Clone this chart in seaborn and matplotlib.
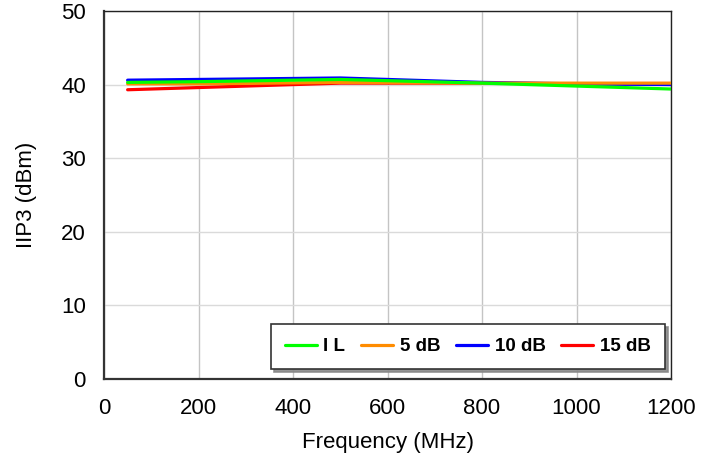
import matplotlib
matplotlib.use("Agg")
import matplotlib.pyplot as plt
import seaborn as sns
import pandas as pd

# IIP3 versus frequency for each attenuation state
freq_mhz = [50, 200, 500, 800, 1000, 1200]
iip3_il = [40.3, 40.4, 40.7, 40.2, 39.8, 39.4]
iip3_5db = [40.1, 40.1, 40.3, 40.2, 40.2, 40.2]
iip3_10db = [40.6, 40.7, 40.9, 40.3, 40.1, 40.0]
iip3_15db = [39.3, 39.6, 40.2, 40.2, 40.1, 40.1]

series_names = ["I L", "5 dB", "10 dB", "15 dB"]
series_values = [iip3_il, iip3_5db, iip3_10db, iip3_15db]
series_colors = ["#00ff00", "#ff8c00", "#0000ff", "#ff0000"]

rows = []
for name, vals in zip(series_names, series_values):
    for f, v in zip(freq_mhz, vals):
        rows.append({"Frequency": f, "IIP3": v, "State": name})
df = pd.DataFrame(rows)

sns.set_theme(style="white")
plt.rcParams["font.family"] = ["Liberation Sans", "DejaVu Sans"]

fig = plt.figure(figsize=(7.15, 4.61), dpi=100)
ax = fig.add_axes([104 / 715, 1 - 379 / 461, 567 / 715, 368 / 461])

# draw so the insertion-loss trace sits on top
palette = dict(zip(series_names, series_colors))
for z, name in enumerate(reversed(series_names)):
    sub = df[df["State"] == name]
    sns.lineplot(data=sub, x="Frequency", y="IIP3", color=palette[name],
                 linewidth=2.3, ax=ax, legend=False, zorder=3 + z)

ax.set_xlim(0, 1200)
ax.set_ylim(0, 50)
ax.set_xticks(range(0, 1201, 200))
ax.set_yticks(range(0, 51, 10))
ax.tick_params(axis="both", labelsize=16, length=0, colors="black")
ax.tick_params(axis="x", pad=14)
ax.tick_params(axis="y", pad=13)
ax.set_xlabel("Frequency (MHz)", fontsize=16, labelpad=9, color="black")
ax.set_ylabel("IIP3 (dBm)", fontsize=16, labelpad=17, color="black")

ax.xaxis.grid(True, color="#c4c4c4", linewidth=1)
ax.yaxis.grid(True, color="#dadada", linewidth=1)
ax.set_axisbelow(True)

for side in ["left", "bottom"]:
    ax.spines[side].set_color("#333333")
    ax.spines[side].set_linewidth(1.6)
for side in ["top", "right"]:
    ax.spines[side].set_color("#222222")
    ax.spines[side].set_linewidth(1.0)

handles = [plt.Line2D([], [], color=c, linewidth=2.3) for c in series_colors]
leg = ax.legend(handles, series_names, loc="lower right", ncol=4,
                bbox_to_anchor=(0.989, 0.026), borderaxespad=0,
                frameon=True, fancybox=False,
                shadow={"color": "#888888", "alpha": 0.9},
                prop={"weight": "bold", "size": 13.5},
                handlelength=1.7, handletextpad=0.35, columnspacing=0.85,
                borderpad=0.75)
leg.get_frame().set_edgecolor("#333333")
leg.get_frame().set_linewidth(1.2)
for t in leg.get_texts():
    t.set_color("black")

fig.savefig("out.png", dpi=100)
